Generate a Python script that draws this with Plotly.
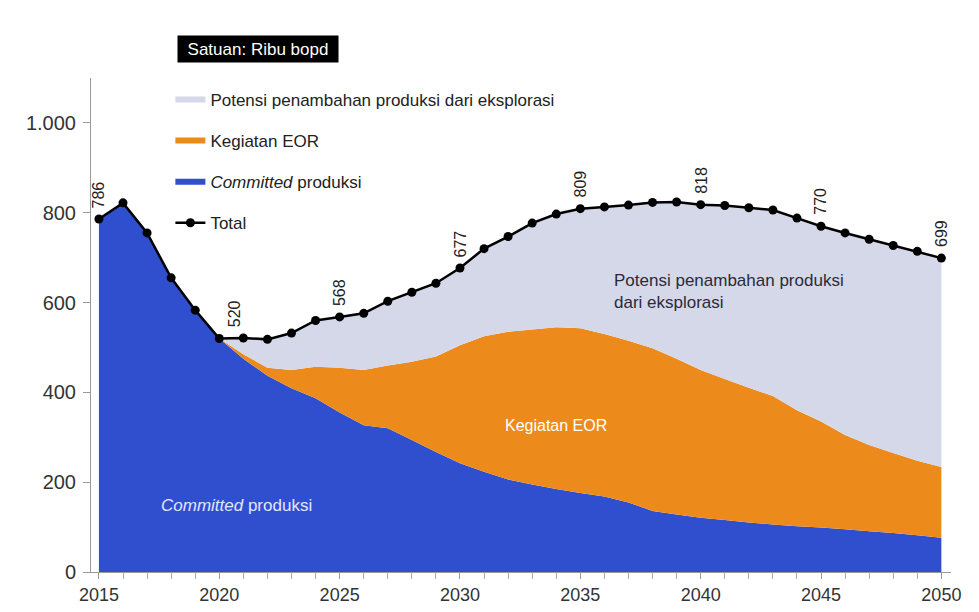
import plotly.graph_objects as go

years = list(range(2015, 2051))

total = [786, 822, 755, 655, 583, 520, 521, 518, 532, 560,
         568, 576, 603, 623, 643, 677, 720, 747, 777, 797,
         809, 813, 817, 823, 824, 818, 816, 811, 806, 788,
         770, 755, 741, 727, 714, 699]

committed = [786, 822, 755, 655, 583, 520, 475, 437, 409, 387,
             355, 327, 320, 294, 267, 242, 223, 206, 195, 185,
             176, 168, 155, 136, 128, 121, 116, 110, 106, 102,
             99, 95, 91, 87, 82, 76]

eor = [0, 0, 0, 0, 0, 0, 10, 18, 41, 70,
       100, 123, 140, 174, 213, 263, 302, 329, 345, 360,
       367, 362, 360, 362, 347, 329, 314, 300, 286, 258,
       236, 210, 192, 178, 166, 158]

label_years = [2015, 2020, 2025, 2030, 2035, 2040, 2045, 2050]

explor = [t - c - e for t, c, e in zip(total, committed, eor)]

FONT = "Liberation Sans, Arial, sans-serif"
BLUE = "#2F4FCE"
ORANGE = "#EC8B1C"
GREY = "#D5D8E8"

fig = go.Figure()
fig.add_trace(go.Scatter(x=years, y=committed, stackgroup="s", mode="none",
                         fillcolor=BLUE, name="<i>Committed</i> produksi",
                         legendgroup="c", legendrank=3))
fig.add_trace(go.Scatter(x=years, y=eor, stackgroup="s", mode="none",
                         fillcolor=ORANGE, name="Kegiatan EOR",
                         legendgroup="e", legendrank=2))
fig.add_trace(go.Scatter(x=years, y=explor, stackgroup="s", mode="none",
                         fillcolor=GREY, name="Potensi penambahan produksi dari eksplorasi",
                         legendgroup="p", legendrank=1))
fig.add_trace(go.Scatter(x=years, y=total, mode="lines+markers", name="Total",
                         line=dict(color="black", width=2.5),
                         marker=dict(color="black", size=9),
                         legendgroup="t", legendrank=4))

annotations = []
for yr in label_years:
    v = total[years.index(yr)]
    annotations.append(dict(x=yr, y=v, xref="x", yref="y", text=str(v),
                            textangle=-90, showarrow=False, yanchor="bottom",
                            xanchor="center", yshift=9,
                            xshift=16 if yr == 2020 else 0,
                            font=dict(family=FONT, size=16, color="#222")))

annotations += [
    dict(x=0.1, y=1.058, xref="paper", yref="paper", xanchor="left", yanchor="middle",
         text="Satuan: Ribu bopd", showarrow=False, bgcolor="black", borderpad=4,
         width=152, height=18, align="center",
         font=dict(family=FONT, size=17, color="white")),
    dict(x=2036.3, y=624, xref="x", yref="y", xanchor="left", yanchor="middle", align="left",
         text="Potensi penambahan produksi<br>dari eksplorasi", showarrow=False,
         font=dict(family=FONT, size=17, color="#2a2a3a")),
    dict(x=2034.0, y=327, xref="x", yref="y", text="Kegiatan EOR", showarrow=False,
         font=dict(family=FONT, size=16, color="white")),
    dict(x=2020.7, y=147, xref="x", yref="y", text="<i>Committed</i> produksi", showarrow=False,
         font=dict(family=FONT, size=17, color="#e2e6ff")),
]

fig.update_layout(
    width=979, height=612,
    margin=dict(l=91, r=28, t=78, b=40, autoexpand=False),
    paper_bgcolor="white", plot_bgcolor="white",
    font=dict(family=FONT, color="#222"),
    showlegend=True,
    legend=dict(x=0.0923, y=0.992, xanchor="left", yanchor="top",
                traceorder="grouped", tracegroupgap=16,
                bgcolor="rgba(0,0,0,0)", font=dict(family=FONT, size=17, color="#222")),
    annotations=annotations,
)
fig.update_xaxes(range=[2014.67, 2050.4], tickvals=list(range(2015, 2051, 5)),
                 ticks="outside", ticklen=6, tickcolor="#999", ticklabelstandoff=0,
                 showline=True, linecolor="#999", showgrid=False, zeroline=False,
                 automargin=False,
                 minor=dict(dtick=1, tick0=2015, ticks="outside", ticklen=6, tickcolor="#aaa"),
                 tickfont=dict(family=FONT, size=18, color="#333"))
fig.update_yaxes(range=[0, 1100], tickvals=[0, 200, 400, 600, 800, 1000],
                 ticktext=["0", "200", "400", "600", "800", "1.000"],
                 ticks="outside", ticklen=7, tickcolor="#999", ticklabelstandoff=3,
                 showline=True, linecolor="#999", showgrid=False, zeroline=False,
                 automargin=False,
                 tickfont=dict(family=FONT, size=20, color="#333"))

fig.write_html("out.html", config={"displayModeBar": False},
               post_script="document.body.style.margin='0px';")
